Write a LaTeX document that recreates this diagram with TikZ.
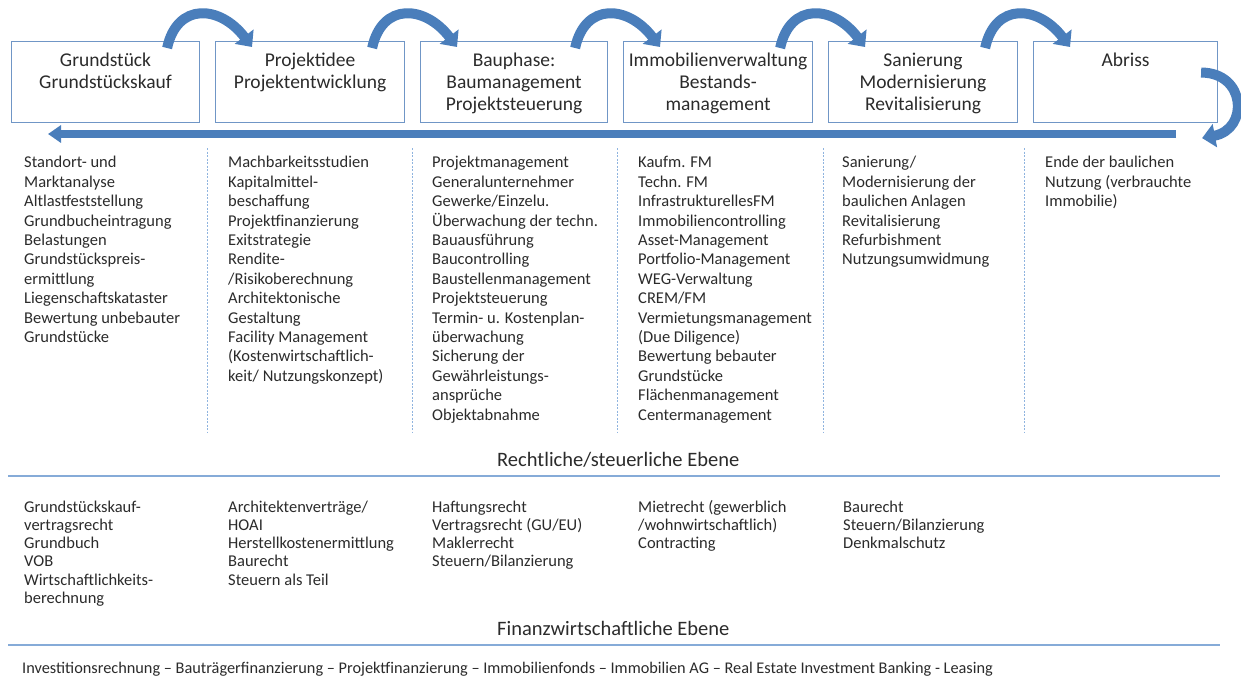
\documentclass[tikz,border=0pt]{standalone}
\usepackage{fontspec}
\setmainfont{Carlito}
\usetikzlibrary{arrows.meta,calc}
\definecolor{boxblue}{HTML}{7096C6}
\definecolor{arrowblue}{HTML}{4A7EBB}
\definecolor{lineblue}{HTML}{86ABD8}
\definecolor{dashblue}{HTML}{8FB4DF}
\definecolor{txt}{HTML}{2B2B2B}
\newcommand{\upstrut}{\rule{0pt}{13.6pt}}
\newcommand{\lowstrut}{\rule{0pt}{12.8pt}}
\newcommand{\boxstrut}{\rule{0pt}{15.4pt}}
\begin{document}
\begin{tikzpicture}[x=1pt,y=-1pt,
  phasebox/.style={draw=boxblue, line width=1.1pt, fill=white, minimum height=81pt, anchor=north west, inner sep=0pt},
  phasetext/.style={anchor=north, inner sep=0pt, align=center, text=txt, font=\fontsize{19.5}{22}\selectfont},
  uplist/.style={anchor=north west, inner sep=0pt, align=left, text=txt, font=\fontsize{16.5}{19.4}\selectfont},
  lowlist/.style={anchor=north west, inner sep=0pt, align=left, text=txt, font=\fontsize{16.5}{18.3}\selectfont},
  heading/.style={anchor=base west, inner sep=0pt, text=txt, font=\fontsize{20.5}{23}\selectfont},
  bottomtext/.style={anchor=base west, inner sep=0pt, text=txt, font=\fontsize{16.3}{19}\selectfont},
  curvedarrow/.style={draw=arrowblue, line width=10pt, -{Triangle[width=23pt,length=13pt]}},
  longarrow/.style={draw=arrowblue, line width=8pt, -{Triangle[width=17pt,length=13pt]}},
  sepline/.style={draw=dashblue, line width=0.9pt, dash pattern=on 2pt off 1.5pt},
  hline/.style={draw=lineblue, line width=1.2pt}
]
\fill[white] (0,0) rectangle (1241,677);
\useasboundingbox (0,0) rectangle (1241,677);

% phase boxes
\node[phasebox, minimum width=188pt] (b1) at (11,41) {};
\node[phasebox, minimum width=189pt] (b2) at (215,41) {};
\node[phasebox, minimum width=187pt] (b3) at (420,41) {};
\node[phasebox, minimum width=189pt] (b4) at (623,41) {};
\node[phasebox, minimum width=189pt] (b5) at (828,41) {};
\node[phasebox, minimum width=184pt] (b6) at (1033,41) {};

\node[phasetext] (t1) at ($(b1.north)+(0,9.6)$) {\boxstrut Grundstück\\Grundstückskauf};
\node[phasetext] (t2) at ($(b2.north)+(0,9.6)$) {\boxstrut Projektidee\\Projektentwicklung};
\node[phasetext] (t3) at ($(b3.north)+(0,9.6)$) {\boxstrut Bauphase:\\Baumanagement\\Projektsteuerung};
\node[phasetext] (t4) at ($(b4.north)+(0,9.6)$) {\boxstrut Immobilienverwaltung\\Bestands-\\management};
\node[phasetext] (t5) at ($(b5.north)+(0,9.6)$) {\boxstrut Sanierung\\Modernisierung\\Revitalisierung};
\node[phasetext] (t6) at ($(b6.north)+(0,9.6)$) {\boxstrut Abriss};

% curved arrows between boxes
\foreach \a/\b in {b1/b2,b2/b3,b3/b4,b4/b5,b5/b6}{
  \coordinate (s\a) at ($(\a.north east)+(-33,7)$);
  \coordinate (e\a) at ($(\b.north west)+(37,6)$);
  \draw[curvedarrow] (s\a) .. controls ($(s\a)+(10,-46)$) and ($(e\a)+(-32,-42)$) .. (e\a);
}
% arrow around the last box
\coordinate (s6) at ($(b6.east)+(-17,-9.5)$);
\coordinate (e6) at ($(b6.south east)+(-16,15)$);
\draw[curvedarrow] (s6) .. controls ($(s6)+(45,0)$) and ($(e6)+(47,-9)$) .. (e6);

% long horizontal arrow
\coordinate (hs) at (1176,134);
\coordinate (he) at (48,134);
\draw[longarrow] (hs) -- (he);

% dashed separators
\foreach \x in {207,412,617,823,1024}{
  \draw[sepline] (\x,148) -- (\x,433);
}

% upper lists
\node[uplist] (l1) at (24,154) {\upstrut Standort- und\\Marktanalyse\\Altlastfeststellung\\Grundbucheintragung\\Belastungen\\Grundstückspreis-\\ermittlung\\Liegenschaftskataster\\Bewertung unbebauter\\Grundstücke};
\node[uplist] (l2) at (228,154) {\upstrut Machbarkeitsstudien\\Kapitalmittel-\\beschaffung\\Projektfinanzierung\\Exitstrategie\\Rendite-\\/Risikoberechnung\\Architektonische\\Gestaltung\\Facility Management\\(Kostenwirtschaftlich-\\keit/ Nutzungskonzept)};
\node[uplist] (l3) at (432,154) {\upstrut Projektmanagement\\Generalunternehmer\\Gewerke/Einzelu.\\Überwachung der techn.\\Bauausführung\\Baucontrolling\\Baustellenmanagement\\Projektsteuerung\\Termin- u. Kostenplan-\\überwachung\\Sicherung der\\Gewährleistungs-\\ansprüche\\Objektabnahme};
\node[uplist] (l4) at (638,154) {\upstrut Kaufm. FM\\Techn. FM\\InfrastrukturellesFM\\Immobiliencontrolling\\Asset-Management\\Portfolio-Management\\WEG-Verwaltung\\CREM/FM\\Vermietungsmanagement\\(Due Diligence)\\Bewertung bebauter\\Grundstücke\\Flächenmanagement\\Centermanagement};
\node[uplist] (l5) at (842,154) {\upstrut Sanierung/\\Modernisierung der\\baulichen Anlagen\\Revitalisierung\\Refurbishment\\Nutzungsumwidmung};
\node[uplist] (l6) at (1045,154) {\upstrut Ende der baulichen\\Nutzung (verbrauchte\\Immobilie)};

% legal level
\node[heading] (h1) at (497,466) {Rechtliche/steuerliche Ebene};
\draw[hline] (8,476) -- (1220,476);
\node[lowlist] (r1) at (24,499) {\lowstrut Grundstückskauf-\\vertragsrecht\\Grundbuch\\VOB\\Wirtschaftlichkeits-\\berechnung};
\node[lowlist] (r2) at (228,499) {\lowstrut Architektenverträge/\\HOAI\\Herstellkostenermittlung\\Baurecht\\Steuern als Teil};
\node[lowlist] (r3) at (432,499) {\lowstrut Haftungsrecht\\Vertragsrecht (GU/EU)\\Maklerrecht\\Steuern/Bilanzierung};
\node[lowlist] (r4) at (638,499) {\lowstrut Mietrecht (gewerblich\\/wohnwirtschaftlich)\\Contracting};
\node[lowlist] (r5) at (843,499) {\lowstrut Baurecht\\Steuern/Bilanzierung\\Denkmalschutz};

% finance level
\node[heading] (h2) at (497,635) {Finanzwirtschaftliche Ebene};
\draw[hline] (8,645) -- (1220,645);
\node[bottomtext] (f1) at (22,673) {Investitionsrechnung – Bauträgerfinanzierung – Projektfinanzierung – Immobilienfonds – Immobilien AG – Real Estate Investment Banking - Leasing};
\end{tikzpicture}
\end{document}
